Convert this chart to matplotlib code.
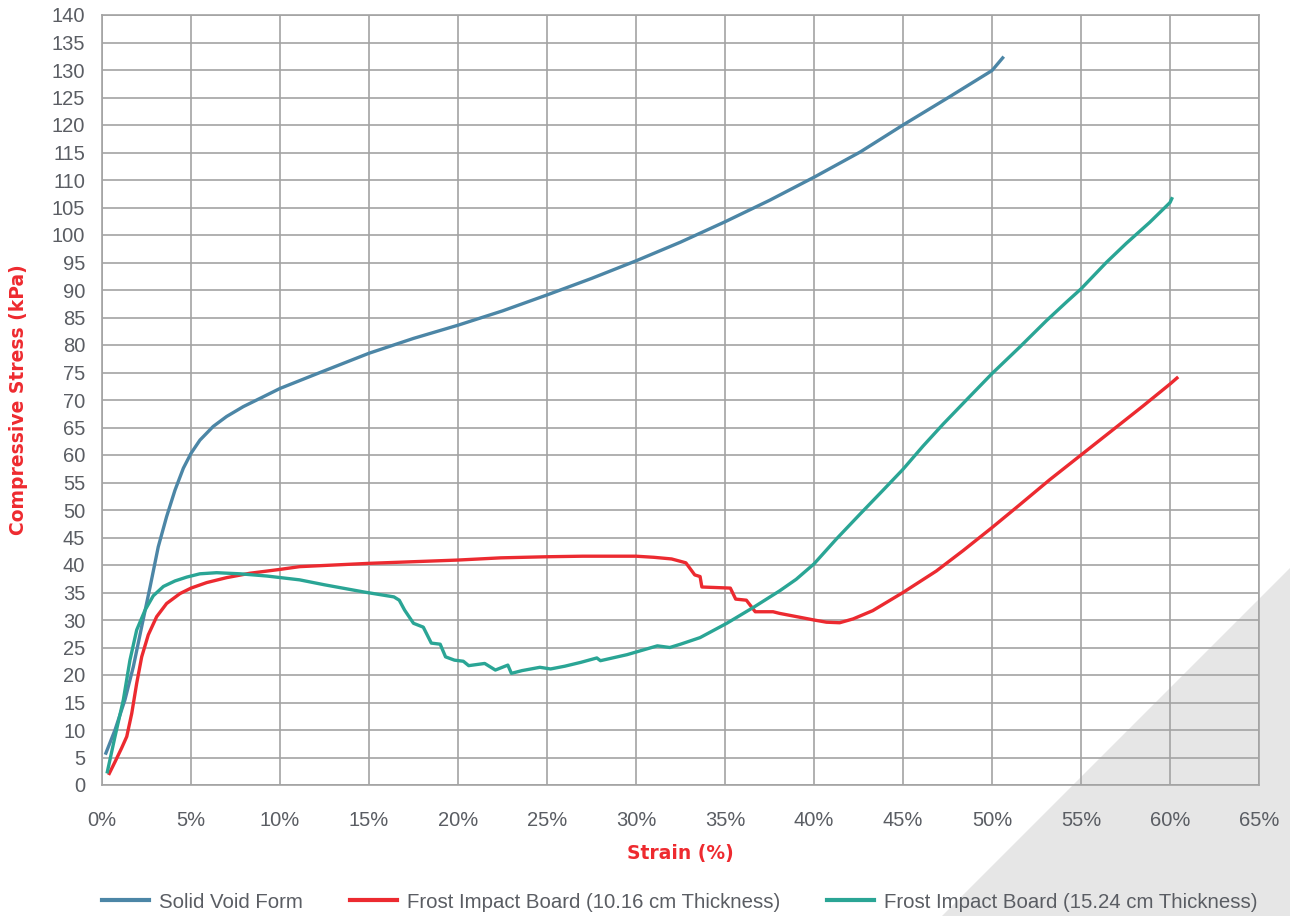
import matplotlib
matplotlib.use("Agg")
import matplotlib.pyplot as plt
from matplotlib.patches import Polygon
from matplotlib.ticker import FuncFormatter

# Strain (%) / compressive stress (kPa)
solid_strain = [0.22, 0.73, 1.29, 1.76, 2.23, 2.7, 3.16, 3.63, 4.1, 4.57, 5.0, 5.5, 6.25,
                7.0, 7.94, 8.88, 10.0, 12.25, 15.0, 17.5, 20.0, 22.5, 25.0, 27.5, 30.0,
                32.5, 35.0, 37.5, 40.0, 42.6, 45.0, 47.6, 50.0, 50.6]
solid_stress = [5.8, 10.0, 15.5, 21.5, 28.8, 36.0, 43.3, 48.8, 53.6, 57.6, 60.3, 62.7, 65.2,
                67.0, 68.8, 70.3, 72.1, 75.0, 78.5, 81.2, 83.6, 86.2, 89.1, 92.1, 95.3,
                98.7, 102.4, 106.3, 110.5, 115.1, 120.0, 125.1, 129.9, 132.2]

thin_strain = [0.41, 0.73, 1.1, 1.39, 1.67, 1.95, 2.23, 2.6, 3.07, 3.63, 4.38, 5.0, 5.88,
               7.0, 8.31, 10.0, 11.1, 15.0, 20.0, 22.4, 25.0, 27.0, 30.0, 31.0, 32.0,
               32.8, 33.3, 33.6, 33.7, 35.3, 35.6, 36.2, 36.7, 37.7, 38.07, 39.2, 40.0,
               40.7, 41.44, 42.2, 43.3, 45.0, 46.87, 48.37, 50.0, 51.5, 53.24, 55.0,
               56.8, 58.48, 60.0, 60.39]
thin_stress = [2.1, 4.2, 6.7, 8.8, 13.0, 18.5, 23.3, 27.3, 30.6, 33.0, 34.8, 35.8, 36.8,
               37.7, 38.5, 39.2, 39.7, 40.3, 40.9, 41.3, 41.5, 41.6, 41.6, 41.4, 41.1,
               40.4, 38.2, 37.9, 36.0, 35.8, 33.8, 33.6, 31.5, 31.5, 31.2, 30.5, 30.0,
               29.6, 29.5, 30.2, 31.7, 35.0, 38.9, 42.6, 46.8, 50.8, 55.5, 60.0,
               64.6, 68.9, 72.9, 74.0]

thick_strain = [0.3, 0.73, 1.2, 1.57, 1.95, 2.42, 2.88, 3.45, 4.1, 4.76, 5.5, 6.44, 7.75,
                9.25, 11.1, 12.5, 14.7, 16.4, 16.7, 17.0, 17.5, 18.05, 18.5, 19.0, 19.3,
                19.8, 20.3, 20.6, 21.5, 22.1, 22.8, 23.0, 23.6, 24.6, 25.2, 26.0, 26.9,
                27.8, 28.0, 29.5, 31.2, 31.9, 32.5, 33.6, 35.1, 36.6, 38.07, 39.0, 40.0,
                41.25, 42.57, 43.88, 45.0, 46.12, 47.25, 48.56, 50.0, 51.55, 53.05,
                54.18, 55.0, 56.42, 57.55, 58.86, 60.0, 60.1]
thick_stress = [2.4, 8.8, 15.5, 22.7, 28.2, 31.8, 34.4, 36.1, 37.1, 37.8, 38.4, 38.6, 38.4,
                38.0, 37.3, 36.4, 35.1, 34.2, 33.6, 31.8, 29.4, 28.7, 25.8, 25.6, 23.3,
                22.7, 22.5, 21.7, 22.1, 20.9, 21.8, 20.3, 20.8, 21.4, 21.1, 21.6, 22.3,
                23.1, 22.6, 23.7, 25.3, 25.0, 25.6, 26.8, 29.4, 32.3, 35.3, 37.4, 40.2,
                44.7, 49.2, 53.6, 57.4, 61.6, 65.6, 70.0, 74.8, 79.6, 84.4,
                87.8, 90.2, 95.0, 98.5, 102.3, 105.9, 106.6]

labels = ["Solid Void Form",
          "Frost Impact Board (10.16 cm Thickness)",
          "Frost Impact Board (15.24 cm Thickness)"]
colors = ["#4c86a6", "#ec2a30", "#2aa595"]

GRID = "#a3a3a3"
TEXT = "#5a5d63"
RED = "#ee2a2f"
SANS = ["Liberation Sans", "DejaVu Sans"]

fig = plt.figure(figsize=(12.9, 9.16), dpi=100)
fig.patch.set_facecolor("white")

# decorative grey corner, behind everything
fig.patches.append(Polygon([(942 / 1290, 0), (1, 0), (1, 1 - 568 / 916)],
                           closed=True, transform=fig.transFigure,
                           facecolor="#e6e6e6", edgecolor="none", zorder=-1))

ax = fig.add_axes([102 / 1290, 1 - 785 / 916, (1259 - 102) / 1290, (785 - 15) / 916])
ax.set_facecolor("none")

for xs, ys, c, lab in zip([solid_strain, thin_strain, thick_strain],
                          [solid_stress, thin_stress, thick_stress], colors, labels):
    ax.plot(xs, ys, color=c, lw=2.4, label=lab, solid_joinstyle="round", zorder=3)

ax.set_xlim(0, 65)
ax.set_ylim(0, 140)
ax.set_xticks(range(0, 66, 5))
ax.set_yticks(range(0, 141, 5))
ax.xaxis.set_major_formatter(FuncFormatter(lambda v, p: f"{v:.0f}%"))
ax.grid(True, color=GRID, lw=1.2, zorder=1)
ax.set_axisbelow(True)
for s in ax.spines.values():
    s.set_color(GRID)
    s.set_linewidth(1.2)
ax.tick_params(length=0, labelsize=14.5, labelcolor=TEXT)
ax.tick_params(axis="x", pad=19)
ax.tick_params(axis="y", pad=12)
for t in ax.get_xticklabels() + ax.get_yticklabels():
    t.set_family(SANS)

ax.set_xlabel("Strain (%)", color=RED, fontsize=13.5, fontweight="bold",
              family=["DejaVu Sans"])
ax.set_ylabel("Compressive Stress (kPa)", color=RED, fontsize=13.5, fontweight="bold",
              family=["DejaVu Sans"])
ax.xaxis.set_label_coords(0.5, (785 - 853) / 770)
ax.xaxis.label.set_va("center")
ax.yaxis.set_label_coords((19 - 102) / 1157, 0.5)
ax.yaxis.label.set_va("center")

leg = fig.legend(loc="center", bbox_to_anchor=(0.527, 1 - 902 / 916), ncol=3,
                 frameon=False, handlelength=2.3, handletextpad=0.5, columnspacing=2.3,
                 prop={"family": SANS, "size": 14.7})
for t in leg.get_texts():
    t.set_color(TEXT)
for h in leg.legend_handles:
    h.set_linewidth(3)

fig.savefig("out.png", dpi=100)
